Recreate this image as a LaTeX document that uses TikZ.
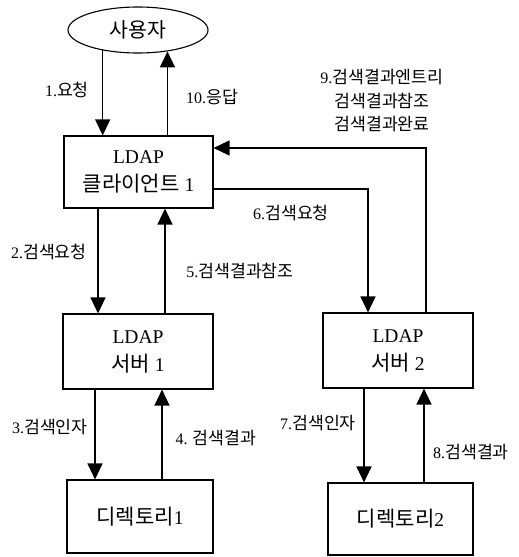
\documentclass[tikz,border=0pt]{standalone}
\usepackage{fontspec}
\setmainfont{Liberation Serif}
\newfontfamily\kr[Scale=1.08]{Noto Sans CJK KR}
\newcommand\kt[1]{{\kr #1}}
\usetikzlibrary{arrows.meta,shapes.geometric,calc}
\tikzset{
  box/.style={draw, line width=1.1pt, rectangle, inner sep=0pt, align=center,
    font=\fontsize{19.5}{28}\selectfont},
  arr/.style={draw, line width=1.2pt, -{Triangle[length=16pt,width=15pt]}},
  lbl/.style={inner sep=0pt, align=center, font=\fontsize{16}{23.5}\selectfont},
}
\begin{document}
\begin{tikzpicture}[x=1pt,y=-1pt]
\useasboundingbox (0,0) rectangle (519,557);
\node[draw, line width=1.1pt, ellipse, minimum width=140pt, minimum height=46pt, inner sep=0pt,
  font=\fontsize{19}{22}\selectfont] (user) at (138,30) {\kt{사용자}};
\node[box, minimum width=149pt, minimum height=72pt] (client) at (138.5,172) {LDAP\\\kt{클라이언트} 1};
\node[box, minimum width=150pt, minimum height=75pt] (server1) at (138,351.5) {LDAP\\\kt{서버} 1};
\node[box, minimum width=150pt, minimum height=75pt] (server2) at (398,350.5) {LDAP\\\kt{서버} 2};
\node[box, minimum width=146pt, minimum height=73pt] (dir1) at (140,516.5) {\kt{디렉토리}1};
\node[box, minimum width=145pt, minimum height=72pt] (dir2) at (400.5,519) {\kt{디렉토리}2};

% user <-> client
\draw[arr] (user.210.5) -- (user.210.5 |- client.north);
\draw[arr] (client.north -| user.324.2) -- (user.324.2);
% client <-> server1
\draw[arr] ([xshift=-40.5pt]client.south) -- ([xshift=-40.5pt]client.south |- server1.north);
\draw[arr] ([xshift=27pt]server1.north) -- ([xshift=27pt]server1.north |- client.south);
% server1 <-> dir1
\draw[arr] ([xshift=-43pt]server1.south) -- ([xshift=-43pt]server1.south |- dir1.north);
\draw[arr] ([xshift=24pt]server1.south |- dir1.north) -- ([xshift=24pt]server1.south);
% client <-> server2
\draw[arr] ([yshift=-17pt]client.east) -| ([xshift=-30pt]server2.north);
\draw[arr] ([xshift=28pt]server2.north) |- ([yshift=24pt]client.east);
% server2 <-> dir2
\draw[arr] ([xshift=-34pt]server2.south) -- ([xshift=-34pt]server2.south |- dir2.north);
\draw[arr] ([xshift=26pt]server2.south |- dir2.north) -- ([xshift=26pt]server2.south);

% labels
\node[lbl] (l1) at (67,90) {1.\kt{요청}};
\node[lbl] (l10) at (212,97) {10.\kt{응답}};
\node[lbl] (l9) at (382,101) {9.\kt{검색결과엔트리}\\\kt{검색결과참조}\\\kt{검색결과완료}};
\node[lbl] (l6) at (291,213) {6.\kt{검색요청}};
\node[lbl] (l2) at (49,252) {2.\kt{검색요청}};
\node[lbl] (l5) at (240,271) {5.\kt{검색결과참조}};
\node[lbl] (l3) at (50,427) {3.\kt{검색인자}};
\node[lbl] (l4) at (216,438) {4. \kt{검색결과}};
\node[lbl] (l7) at (318,423) {7.\kt{검색인자}};
\node[lbl] (l8) at (471,452) {8.\kt{검색결과}};
\end{tikzpicture}
\end{document}
